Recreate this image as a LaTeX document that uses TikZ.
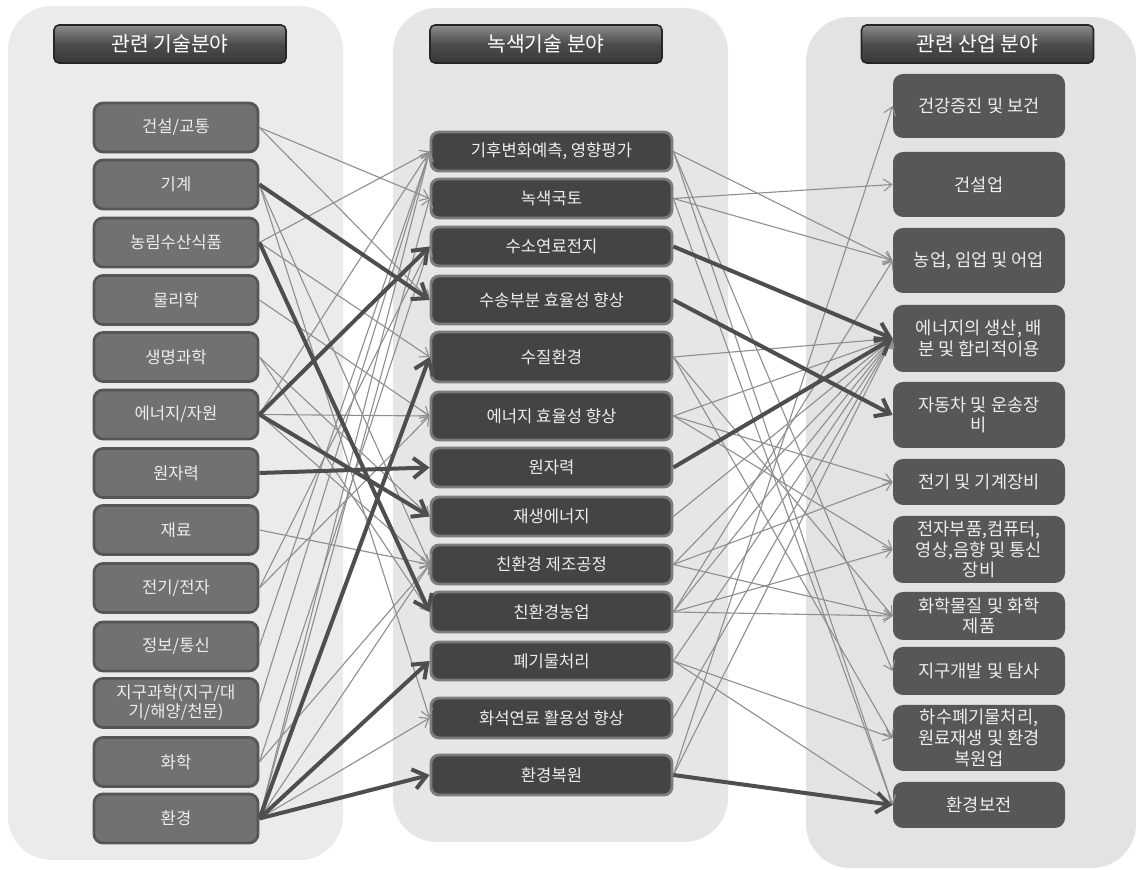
\documentclass[tikz,border=0pt]{standalone}
\usepackage{fontspec}
\setmainfont{Noto Sans CJK KR}
\usetikzlibrary{arrows.meta}
\definecolor{panelL}{HTML}{EBEBEB}
\definecolor{panelM}{HTML}{E6E6E6}
\definecolor{panelR}{HTML}{E3E3E3}
\definecolor{lfill}{HTML}{717171}
\definecolor{ldraw}{HTML}{565656}
\definecolor{mfill}{HTML}{444444}
\definecolor{mdraw}{HTML}{7C7C7C}
\definecolor{rfill}{HTML}{575757}
\definecolor{txt}{HTML}{EDEDED}
\definecolor{thinc}{HTML}{8E8E8E}
\definecolor{thickc}{HTML}{4E4E4E}
\begin{document}
\begin{tikzpicture}[x=0.5pt,y=-0.5pt,
  panel/.style={rounded corners=22pt},
  hdr/.style={draw=black!85, line width=0.8pt, rounded corners=2.5pt, top color=black!45, bottom color=black!78, middle color=black!70,
     minimum width=116pt, minimum height=19pt, inner sep=0pt, text=white, font=\fontsize{10.2}{12}\selectfont},
  lnode/.style={fill=lfill, draw=ldraw, line width=1.4pt, rounded corners=4.5pt, minimum width=82pt, minimum height=24.5pt,
     inner sep=1pt, text=txt, align=center, font=\fontsize{8.3}{9.6}\selectfont},
  mnode/.style={fill=mfill, draw=mdraw, line width=1.4pt, rounded corners=4pt, minimum width=120.5pt,
     inner sep=1pt, text=txt, align=center, font=\fontsize{8.3}{9.6}\selectfont},
  rnode/.style={fill=rfill, rounded corners=5pt, minimum width=86pt,
     inner sep=1pt, text=txt, align=center, font=\fontsize{8.8}{10.3}\selectfont},
  thinedge/.style={draw=thinc, line width=0.55pt, -{Straight Barb[length=4pt,width=6pt]}},
  thickedge/.style={draw=thickc, line width=2pt, -{Straight Barb[length=6.5pt,width=10pt,line width=2pt]}}
]
\useasboundingbox (0,0) rectangle (1136,870);
\fill[white] (0,0) rectangle (1136,870);
% panels
\fill[panelL, panel] (8,6) rectangle (343,860);
\fill[panelM, panel] (393,8) rectangle (728,842);
\fill[panelR, panel] (806,17) rectangle (1136,868);
% headers
\node[hdr] (H1) at (170,44) {관련 기술분야};
\node[hdr] (H2) at (546,44) {녹색기술 분야};
\node[hdr] (H3) at (977.5,44) {관련 산업 분야};
% left nodes
\node[lnode] (L1) at (176,127.5) {건설/교통};
\node[lnode] (L2) at (176,184.5) {기계};
\node[lnode] (L3) at (176,242.5) {농림수산식품};
\node[lnode] (L4) at (176,300) {물리학};
\node[lnode] (L5) at (176,357) {생명과학};
\node[lnode] (L6) at (176,414.5) {에너지/자원};
\node[lnode] (L7) at (176,473) {원자력};
\node[lnode] (L8) at (176,530) {재료};
\node[lnode] (L9) at (176,588) {전기/전자};
\node[lnode] (L10) at (176,646.5) {정보/통신};
\node[lnode] (L11) at (176,703) {지구과학(지구/대\\기/해양/천문)};
\node[lnode] (L12) at (176,762) {화학};
\node[lnode] (L13) at (176,818.5) {환경};
% middle nodes
\node[mnode, minimum height=19.5pt] (M1) at (551.5,151.5) {기후변화예측, 영향평가};
\node[mnode, minimum height=19.5pt] (M2) at (551.5,198.5) {녹색국토};
\node[mnode, minimum height=19.5pt] (M3) at (551.5,246.5) {수소연료전지};
\node[mnode, minimum height=24pt] (M4) at (551.5,300) {수송부분 효율성 향상};
\node[mnode, minimum height=25pt] (M5) at (551.5,357) {수질환경};
\node[mnode, minimum height=24pt] (M6) at (551.5,416) {에너지 효율성 향상};
\node[mnode, minimum height=19.5pt] (M7) at (551.5,467.5) {원자력};
\node[mnode, minimum height=19.5pt] (M8) at (551.5,516.5) {재생에너지};
\node[mnode, minimum height=19.5pt] (M9) at (551.5,564.5) {친환경 제조공정};
\node[mnode, minimum height=20pt] (M10) at (551.5,612) {친환경농업};
\node[mnode, minimum height=19pt] (M11) at (551.5,661) {폐기물처리};
\node[mnode, minimum height=20pt] (M12) at (551.5,718) {화석연료 활용성 향상};
\node[mnode, minimum height=20pt] (M13) at (551.5,775) {환경복원};
% right nodes
\node[rnode, minimum height=32pt] (R1) at (979,106) {건강증진 및 보건};
\node[rnode, minimum height=32.5pt] (R2) at (979,184.5) {건설업};
\node[rnode, minimum height=32.5pt] (R3) at (979,260.5) {농업, 임업 및 어업};
\node[rnode, minimum height=33.5pt] (R4) at (979,338.5) {에너지의 생산, 배\\분 및 합리적이용};
\node[rnode, minimum height=33pt] (R5) at (979,415) {자동차 및 운송장\\비};
\node[rnode, minimum height=23pt] (R6) at (979,482) {전기 및 기계장비};
\node[rnode, minimum height=33.5pt] (R7) at (979,549.5) {전자부품,컴퓨터,\\영상,음향 및 통신\\장비};
\node[rnode, minimum height=24pt] (R8) at (979,616) {화학물질 및 화학\\제품};
\node[rnode, minimum height=24pt] (R9) at (979,671) {지구개발 및 탐사};
\node[rnode, minimum height=33pt] (R10) at (979,738) {하수폐기물처리,\\원료재생 및 환경\\복원업};
\node[rnode, minimum height=23pt] (R11) at (979,805) {환경보전};
% thin connectors, left to middle
\foreach \a/\b in {L1/M2, L1/M4, L2/M9, L2/M12, L3/M1, L3/M5, L4/M6, L5/M8, L5/M10,
  L6/M6, L6/M1, L6/M9, L8/M9, L9/M6, L9/M3, L10/M1, L11/M1, L12/M3, L12/M9, L13/M1, L13/M2, L13/M12, L13/M9}
  \draw[thinedge] (\a.east) -- (\b.west);
% thin connectors, middle to right
\foreach \a/\b in {M1/R3, M1/R9, M1/R11, M2/R2, M2/R3, M2/R11, M5/R4, M5/R8, M5/R10,
  M6/R4, M6/R6, M6/R7, M8/R4, M9/R4, M9/R8, M9/R6, M10/R3, M10/R4, M10/R8, M10/R7,
  M11/R4, M11/R10, M11/R11, M12/R4, M13/R1, M13/R4}
  \draw[thinedge] (\a.east) -- (\b.west);
% thick connectors
\foreach \a/\b in {L2/M4, L3/M10, L6/M3, L6/M8, L7/M7, L13/M5, L13/M11, L13/M13,
  M3/R4, M4/R5, M7/R4, M13/R11}
  \draw[thickedge] (\a.east) -- (\b.west);
\end{tikzpicture}
\end{document}
